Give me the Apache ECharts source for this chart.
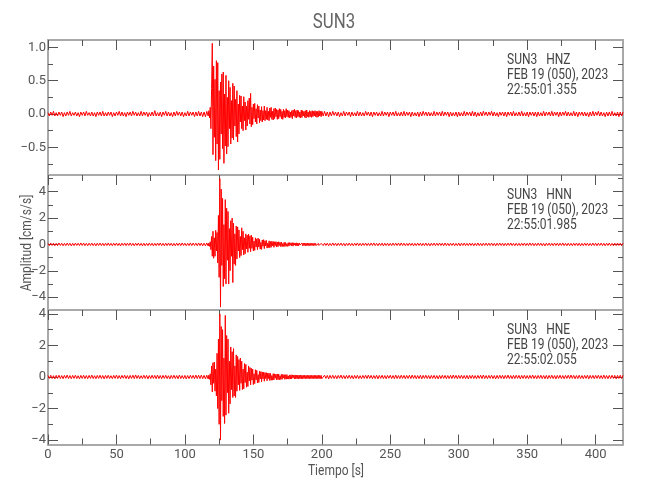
<!DOCTYPE html>
<html><head><meta charset="utf-8">
<script src="https://cdn.jsdelivr.net/npm/echarts@6/dist/echarts.min.js"></script>
<style>html,body{margin:0;padding:0;background:#fff}#c{width:650px;height:500px}</style>
</head><body><div id="c"></div>
<script>
const FONT = "Roboto, 'Liberation Sans', sans-serif";

// ---- text ----
const chartTitle = 'SUN3';
const xTitle = 'Tiempo [s]';
const yTitle = 'Amplitud [cm/s/s]';
const stationInfo = [
  ['SUN3   HNZ', 'FEB 19 (050), 2023', '22:55:01.355'],
  ['SUN3   HNN', 'FEB 19 (050), 2023', '22:55:01.985'],
  ['SUN3   HNE', 'FEB 19 (050), 2023', '22:55:02.055']
];

// ---- axis ticks ----
const xRange = [0, 420];
const xMajorTicks = [0, 50, 100, 150, 200, 250, 300, 350, 400];
const xMinorTicks = [25, 75, 125, 175, 225, 275, 325, 375];
const yRanges = [[-0.915, 1.11], [-4.98, 5.27], [-4.28, 4.245]];
const yMajorTicks = [[-0.5, 0, 0.5, 1.0], [-4, -2, 0, 2, 4], [-4, -2, 0, 2, 4]];
const yMinorTicks = [[-0.75, -0.25, 0.25, 0.75], [-5, -3, -1, 1, 3, 5], [-3, -1, 1, 3]];
const yDecimals = [1, 0, 0];

// ---- sampling of the read-off values (segment start time, step in s) ----
const preStart = 0, preStep = 1;
const evStart = 117.5, evStep = 0.5;
const postStart = 201, postStep = 1;

// ---- HNZ ----
const hnzPre = [
0.02,-0.03,0.03,-0.02,0.04,-0.03,0.02,-0.03,0.03,-0.02,
0.03,-0.04,0.02,-0.03,0.03,-0.02,0.04,-0.03,0.02,-0.02,
0.03,-0.03,0.02,-0.04,0.03,-0.02,0.03,-0.03,0.04,-0.02,
0.02,-0.03,0.03,-0.03,0.02,-0.04,0.03,-0.02,0.03,-0.03,
0.04,-0.03,0.02,-0.03,0.03,-0.02,0.03,-0.04,0.02,-0.03,
0.03,-0.02,0.04,-0.03,0.03,-0.03,0.02,-0.04,0.03,-0.02,
0.03,-0.03,0.04,-0.02,0.03,-0.03,0.02,-0.03,0.04,-0.03,
0.03,-0.02,0.03,-0.04,0.02,-0.03,0.03,-0.03,0.05,-0.03,
0.02,-0.03,0.03,-0.04,0.03,-0.02,0.04,-0.03,0.03,-0.03,
0.02,-0.04,0.03,-0.03,0.04,-0.02,0.03,-0.03,0.03,-0.04,
0.02,-0.03,0.04,-0.03,0.03,-0.02,0.03,-0.04,0.03,-0.03,
0.04,-0.03,0.03,-0.04,0.03,-0.04,0.04,-0.03];
const hnzEvent = [
0.05,-0.06,0.10,-0.22,0.38,1.06,-0.61,0.72,-0.35,0.52,-0.70,
0.80,-0.45,0.77,-0.84,0.35,-0.68,0.48,-0.30,0.60,-0.52,
0.63,-0.74,0.30,-0.48,0.58,-0.60,0.25,-0.49,0.50,-0.22,
0.40,-0.45,0.20,-0.36,0.46,-0.39,0.42,-0.18,0.22,-0.34,
0.35,-0.42,0.15,-0.30,0.28,-0.12,0.27,-0.22,0.12,-0.25,
0.26,-0.10,0.18,-0.24,0.12,-0.18,0.20,-0.08,0.24,-0.15,
0.31,-0.19,0.10,-0.16,0.15,-0.07,0.16,-0.12,0.08,-0.15,
0.14,-0.06,0.12,-0.13,0.06,-0.10,0.11,-0.12,0.05,-0.09,
0.12,-0.10,0.05,-0.08,0.10,-0.09,0.04,-0.10,0.09,-0.05,
0.10,-0.08,0.04,-0.09,0.08,-0.07,0.09,-0.04,0.07,-0.08,
0.06,-0.07,0.08,-0.04,0.07,-0.07,0.04,-0.08,0.07,-0.05,
0.05,-0.06,0.08,-0.04,0.06,-0.05,0.05,-0.06,0.03,-0.05,
0.05,-0.07,0.06,-0.03,0.07,-0.05,0.05,-0.06,0.06,-0.04,
0.05,-0.05,0.03,-0.06,0.06,-0.05,0.05,-0.03,0.04,-0.05,
0.05,-0.06,0.06,-0.04,0.03,-0.05,0.05,-0.04,0.04,-0.05,
0.05,-0.04,0.04,-0.03,0.05,-0.04,0.04,-0.05,0.04,-0.04,
0.05,-0.03,0.04,-0.04,0.04];
const hnzPost = [
-0.03,0.04,-0.03,0.03,-0.04,0.03,-0.03,0.04,-0.02,0.03,
-0.03,0.03,-0.04,0.02,-0.03,0.04,-0.03,0.03,-0.02,0.03,
-0.04,0.03,-0.03,0.02,-0.03,0.04,-0.03,0.03,-0.03,0.02,
-0.03,0.04,-0.02,0.03,-0.03,0.03,-0.04,0.03,-0.02,0.03,
-0.03,0.02,-0.03,0.04,-0.03,0.03,-0.02,0.03,-0.04,0.03,
-0.02,0.03,-0.03,0.04,-0.03,0.02,-0.03,0.03,-0.03,0.04,
-0.03,0.03,-0.02,0.03,-0.04,0.03,-0.03,0.02,-0.03,0.03,
-0.04,0.03,-0.03,0.04,-0.02,0.03,-0.03,0.03,-0.03,0.02,
-0.03,0.04,-0.03,0.03,-0.02,0.03,-0.03,0.04,-0.03,0.03,
-0.02,0.03,-0.04,0.03,-0.03,0.02,-0.03,0.03,-0.04,0.03,
-0.03,0.02,-0.03,0.04,-0.03,0.03,-0.02,0.03,-0.03,0.04,
-0.03,0.03,-0.04,0.02,-0.03,0.03,-0.03,0.04,-0.02,0.03,
-0.03,0.03,-0.02,0.04,-0.03,0.03,-0.03,0.02,-0.04,0.03,
-0.02,0.03,-0.03,0.03,-0.04,0.03,-0.02,0.03,-0.03,0.04,
-0.03,0.02,-0.03,0.03,-0.03,0.04,-0.03,0.02,-0.03,0.03,
-0.04,0.03,-0.02,0.03,-0.03,0.03,-0.04,0.03,-0.03,0.02,
-0.03,0.04,-0.03,0.03,-0.02,0.03,-0.03,0.04,-0.03,0.03,
-0.02,0.03,-0.04,0.03,-0.03,0.03,-0.02,0.04,-0.03,0.03,
-0.03,0.02,-0.03,0.04,-0.03,0.03,-0.04,0.03,-0.02,0.03,
-0.03,0.03,-0.03,0.02,-0.04,0.03,-0.03,0.04,-0.03,0.03,
-0.02,0.04,-0.03,0.03,-0.03,0.02,-0.04,0.03,-0.03,0.03,
-0.03,0.04,-0.03,0.02,-0.03,0.03,-0.04,0.03,-0.03,0.03];

// ---- HNN ----
const hnnPre = [
0.08,-0.09,0.1,-0.08,0.09,-0.1,0.08,-0.09,0.11,-0.08,
0.09,-0.1,0.08,-0.09,0.1,-0.08,0.09,-0.11,0.08,-0.09,
0.1,-0.08,0.09,-0.09,0.11,-0.08,0.1,-0.09,0.08,-0.1,
0.09,-0.08,0.1,-0.09,0.08,-0.11,0.09,-0.08,0.1,-0.09,
0.08,-0.1,0.09,-0.08,0.11,-0.09,0.08,-0.1,0.09,-0.08,
0.1,-0.09,0.08,-0.11,0.09,-0.08,0.1,-0.09,0.09,-0.08,
0.11,-0.09,0.08,-0.1,0.09,-0.08,0.1,-0.09,0.08,-0.11,
0.09,-0.1,0.08,-0.09,0.1,-0.08,0.09,-0.11,0.08,-0.09,
0.1,-0.08,0.11,-0.09,0.08,-0.1,0.09,-0.09,0.1,-0.08,
0.09,-0.11,0.08,-0.1,0.09,-0.08,0.1,-0.09,0.11,-0.08,
0.09,-0.1,0.08,-0.09,0.11,-0.09,0.1,-0.08,0.09,-0.1,
0.11,-0.09,0.1,-0.11,0.09,-0.1,0.11,-0.12];
const hnnEvent = [
0.1,-0.15,0.2,-0.4,0.6,-0.9,1.0,-1.05,0.5,-0.9,1.07,
-0.5,0.9,-1.4,2.2,-2.5,5.0,-4.76,4.2,-1.6,3.5,
-3.2,1.5,-2.6,3.4,-3.0,2.75,-1.2,2.5,-3.0,1.2,
-2.0,1.8,-0.9,2.0,-2.9,1.6,-1.5,0.8,-1.6,1.4,
-1.1,1.33,-0.5,1.1,-1.0,0.6,-0.85,1.26,-0.4,1.0,
-0.8,0.5,-0.7,0.8,-0.35,0.7,-0.6,0.78,-0.3,0.65,
-0.55,0.7,-0.3,0.55,-0.5,0.25,-0.45,0.5,-0.2,0.42,
-0.4,0.48,-0.2,0.38,-0.36,0.15,-0.38,0.34,-0.14,0.36,
-0.32,0.28,-0.12,0.3,-0.28,0.1,-0.24,0.27,-0.25,0.22,
-0.22,0.24,-0.1,0.22,-0.22,0.2,-0.09,0.21,-0.2,0.18,
-0.17,0.2,-0.08,0.16,-0.16,0.18,-0.17,0.07,-0.15,0.16,
-0.16,0.14,-0.14,0.06,-0.15,0.13,-0.13,0.14,-0.06,0.12,
-0.12,0.13,-0.13,0.12,-0.05,0.11,-0.11,0.12,-0.12,0.1,
-0.1,0.11,-0.05,0.1,-0.1,0.11,-0.1,0.09,-0.09,0.1,
-0.1,0.09,-0.09,0.1,-0.1,0.08,-0.08,0.09,-0.09,0.08,
-0.08,0.09,-0.09,0.08,-0.08,0.08,-0.08,0.07,-0.07,0.08,
-0.08,0.07,-0.07,0.08,-0.07];
const hnnPost = [
-0.09,0.1,-0.08,0.09,-0.1,0.08,-0.09,0.11,-0.08,0.09,
-0.1,0.09,-0.08,0.1,-0.09,0.08,-0.11,0.09,-0.08,0.1,
-0.09,0.08,-0.1,0.09,-0.08,0.11,-0.09,0.08,-0.1,0.09,
-0.08,0.1,-0.09,0.08,-0.09,0.1,-0.08,0.11,-0.09,0.08,
-0.1,0.09,-0.08,0.1,-0.11,0.09,-0.08,0.09,-0.1,0.08,
-0.09,0.1,-0.08,0.09,-0.08,0.1,-0.09,0.11,-0.08,0.09,
-0.1,0.08,-0.09,0.1,-0.08,0.09,-0.11,0.08,-0.09,0.1,
-0.08,0.09,-0.1,0.08,-0.09,0.1,-0.09,0.08,-0.11,0.09,
-0.08,0.1,-0.09,0.09,-0.08,0.1,-0.08,0.09,-0.1,0.11,
-0.09,0.08,-0.1,0.09,-0.08,0.09,-0.1,0.08,-0.09,0.1,
-0.11,0.09,-0.08,0.1,-0.09,0.08,-0.09,0.1,-0.08,0.09,
-0.1,0.08,-0.09,0.11,-0.09,0.08,-0.1,0.09,-0.08,0.1,
-0.09,0.09,-0.08,0.1,-0.09,0.08,-0.11,0.09,-0.08,0.1,
-0.08,0.09,-0.1,0.08,-0.09,0.1,-0.08,0.11,-0.09,0.08,
-0.1,0.09,-0.09,0.08,-0.1,0.09,-0.08,0.1,-0.09,0.08,
-0.09,0.11,-0.08,0.09,-0.1,0.08,-0.09,0.1,-0.08,0.09,
-0.1,0.08,-0.11,0.09,-0.08,0.1,-0.09,0.08,-0.09,0.1,
-0.08,0.09,-0.1,0.09,-0.08,0.11,-0.09,0.08,-0.1,0.09,
-0.09,0.08,-0.1,0.09,-0.08,0.1,-0.09,0.09,-0.11,0.08,
-0.09,0.1,-0.08,0.09,-0.1,0.08,-0.09,0.1,-0.08,0.09,
-0.1,0.09,-0.08,0.1,-0.09,0.08,-0.1,0.09,-0.08,0.1,
-0.09,0.08,-0.1,0.09,-0.09,0.1,-0.08,0.09,-0.1,0.09];

// ---- HNE ----
const hnePre = [
0.1,-0.09,0.11,-0.1,0.08,-0.12,0.1,-0.09,0.11,-0.1,
0.09,-0.11,0.1,-0.08,0.12,-0.1,0.09,-0.11,0.1,-0.09,
0.11,-0.1,0.08,-0.12,0.1,-0.09,0.11,-0.1,0.09,-0.11,
0.1,-0.09,0.12,-0.1,0.08,-0.11,0.1,-0.09,0.11,-0.1,
0.09,-0.12,0.1,-0.09,0.11,-0.1,0.08,-0.11,0.1,-0.09,
0.12,-0.1,0.09,-0.11,0.1,-0.08,0.11,-0.1,0.09,-0.12,
0.1,-0.09,0.11,-0.1,0.13,-0.09,0.1,-0.11,0.08,-0.1,
0.11,-0.09,0.1,-0.12,0.09,-0.1,0.11,-0.09,0.1,-0.11,
0.12,-0.1,0.09,-0.11,0.1,-0.09,0.11,-0.1,0.08,-0.12,
0.1,-0.09,0.11,-0.1,0.09,-0.11,0.12,-0.1,0.09,-0.11,
0.1,-0.12,0.09,-0.1,0.11,-0.09,0.1,-0.11,0.12,-0.1,
0.11,-0.1,0.12,-0.11,0.1,-0.12,0.11,-0.13];
const hneEvent = [
0.12,-0.15,0.2,-0.5,0.7,-0.95,0.9,-0.4,0.95,-0.9,0.5,
-1.2,1.5,-2.0,2.4,-3.0,4.0,-4.0,3.2,-1.5,3.0,
-2.5,1.2,-2.95,3.9,-2.42,2.63,-1.0,2.4,-2.3,1.0,
-1.7,1.9,-0.8,1.6,-1.3,1.8,-1.2,0.7,-1.3,1.4,
-0.9,1.3,-0.5,1.1,-0.85,1.2,-0.4,1.0,-0.8,0.5,
-0.75,0.85,-0.35,0.8,-0.65,0.3,-0.6,0.7,-0.25,0.6,
-0.5,0.55,-0.2,0.5,-0.48,0.2,-0.42,0.46,-0.18,0.42,
-0.38,0.15,-0.35,0.36,-0.12,0.34,-0.3,0.32,-0.12,0.3,
-0.27,0.28,-0.1,0.27,-0.24,0.25,-0.1,0.24,-0.22,0.23,
-0.21,0.09,-0.2,0.21,-0.19,0.2,-0.08,0.18,-0.18,0.19,
-0.17,0.18,-0.18,0.08,-0.16,0.17,-0.15,0.16,-0.07,0.15,
-0.15,0.14,-0.14,0.15,-0.13,0.07,-0.14,0.13,-0.13,0.14,
-0.12,0.13,-0.06,0.12,-0.12,0.13,-0.12,0.11,-0.11,0.12,
-0.12,0.11,-0.11,0.12,-0.12,0.11,-0.11,0.1,-0.1,0.11,
-0.11,0.1,-0.1,0.11,-0.11,0.1,-0.1,0.11,-0.11,0.1,
-0.1,0.1,-0.1,0.11,-0.11,0.1,-0.1,0.1,-0.1,0.11,
-0.11,0.1,-0.1,0.1,-0.11];
const hnePost = [
-0.1,0.11,-0.09,0.1,-0.12,0.1,-0.09,0.11,-0.1,0.09,
-0.11,0.1,-0.08,0.12,-0.1,0.09,-0.11,0.1,-0.09,0.11,
-0.1,0.09,-0.12,0.1,-0.09,0.11,-0.1,0.08,-0.11,0.1,
-0.09,0.11,-0.1,0.12,-0.09,0.1,-0.11,0.09,-0.1,0.11,
-0.12,0.1,-0.09,0.11,-0.1,0.09,-0.11,0.1,-0.08,0.11,
-0.1,0.09,-0.11,0.12,-0.1,0.09,-0.1,0.11,-0.09,0.1,
-0.11,0.1,-0.09,0.11,-0.1,0.12,-0.09,0.1,-0.11,0.09,
-0.1,0.11,-0.12,0.1,-0.09,0.11,-0.1,0.09,-0.11,0.1,
-0.09,0.1,-0.11,0.09,-0.12,0.1,-0.1,0.11,-0.09,0.1,
-0.11,0.09,-0.1,0.11,-0.1,0.12,-0.09,0.1,-0.11,0.1,
-0.09,0.11,-0.1,0.09,-0.11,0.1,-0.12,0.1,-0.09,0.11,
-0.1,0.09,-0.11,0.1,-0.09,0.11,-0.1,0.12,-0.1,0.09,
-0.11,0.1,-0.09,0.11,-0.1,0.09,-0.12,0.1,-0.1,0.11,
-0.09,0.1,-0.11,0.1,-0.09,0.12,-0.1,0.09,-0.11,0.1,
-0.1,0.11,-0.09,0.1,-0.12,0.1,-0.09,0.11,-0.1,0.09,
-0.11,0.1,-0.09,0.12,-0.1,0.09,-0.11,0.1,-0.09,0.11,
-0.1,0.09,-0.11,0.1,-0.12,0.1,-0.09,0.11,-0.1,0.09,
-0.12,0.1,-0.09,0.11,-0.1,0.09,-0.11,0.1,-0.09,0.11,
-0.1,0.12,-0.09,0.1,-0.11,0.09,-0.1,0.11,-0.1,0.09,
-0.11,0.1,-0.09,0.11,-0.12,0.1,-0.09,0.1,-0.11,0.1,
-0.09,0.11,-0.1,0.09,-0.11,0.12,-0.1,0.09,-0.11,0.1,
-0.1,0.11,-0.09,0.1,-0.12,0.1,-0.09,0.11,-0.1,0.11];

// ---- build (time, value) pairs ----
function trace(pre, ev, post) {
  const d = [];
  pre.forEach((v, i) => d.push([preStart + i * preStep, v]));
  ev.forEach((v, i) => d.push([evStart + i * evStep, v]));
  post.forEach((v, i) => d.push([postStart + i * postStep, v]));
  return d;
}
const traces = [trace(hnzPre, hnzEvent, hnzPost), trace(hnnPre, hnnEvent, hnnPost), trace(hnePre, hneEvent, hnePost)];

// ---- layout ----
const grids = [
  {left: 48, right: 27, top: 40, height: 135},
  {left: 48, right: 27, top: 175, height: 135},
  {left: 48, right: 27, top: 310, height: 134.5}
];
const TICK_COLOR = '#555';
const LABEL_COLOR = '#555';
function axisLine(show) {
  return {show: show, onZero: false, lineStyle: {color: '#a9a9a9', width: 2}};
}
function fmt(v, dec) {
  const s = Math.abs(v).toFixed(dec);
  return (v < 0 ? '\u2212' : '') + s;
}

const xAxes = [], yAxes = [];
grids.forEach((g, gi) => {
  const last = gi === grids.length - 1;
  const xb = () => ({gridIndex: gi, type: 'value', min: xRange[0], max: xRange[1], splitLine: {show: false}});
  xAxes.push(Object.assign(xb(), {
    position: 'bottom', axisLine: axisLine(true),
    axisTick: {show: last, inside: true, length: 10, customValues: xMajorTicks, lineStyle: {color: TICK_COLOR}},
    axisLabel: {show: last, customValues: xMajorTicks, margin: 4, color: LABEL_COLOR, fontFamily: FONT, fontSize: 13}
  }));
  xAxes.push(Object.assign(xb(), {
    position: 'bottom', axisLine: axisLine(false),
    axisTick: {show: last, inside: true, length: 6, customValues: xMinorTicks, lineStyle: {color: TICK_COLOR}},
    axisLabel: {show: false}
  }));
  xAxes.push(Object.assign(xb(), {
    position: 'top', axisLine: axisLine(true),
    axisTick: {show: true, inside: true, length: 10, customValues: xMajorTicks, lineStyle: {color: TICK_COLOR}},
    axisLabel: {show: false}
  }));
  xAxes.push(Object.assign(xb(), {
    position: 'top', axisLine: axisLine(false),
    axisTick: {show: true, inside: true, length: 6, customValues: xMinorTicks, lineStyle: {color: TICK_COLOR}},
    axisLabel: {show: false}
  }));

  const yb = () => ({gridIndex: gi, type: 'value', min: yRanges[gi][0], max: yRanges[gi][1], splitLine: {show: false}});
  yAxes.push(Object.assign(yb(), {
    position: 'left', axisLine: axisLine(true),
    axisTick: {show: true, inside: true, length: 10, customValues: yMajorTicks[gi], lineStyle: {color: TICK_COLOR}},
    axisLabel: {show: true, customValues: yMajorTicks[gi], margin: 2, color: LABEL_COLOR, fontFamily: FONT, fontSize: 13,
      formatter: (v) => fmt(v, yDecimals[gi])}
  }));
  yAxes.push(Object.assign(yb(), {
    position: 'left', axisLine: axisLine(false),
    axisTick: {show: true, inside: true, length: 5, customValues: yMinorTicks[gi], lineStyle: {color: TICK_COLOR}},
    axisLabel: {show: false}
  }));
  yAxes.push(Object.assign(yb(), {
    position: 'right', axisLine: axisLine(true),
    axisTick: {show: true, inside: true, length: 10, customValues: yMajorTicks[gi], lineStyle: {color: TICK_COLOR}},
    axisLabel: {show: false}
  }));
  yAxes.push(Object.assign(yb(), {
    position: 'right', axisLine: axisLine(false),
    axisTick: {show: true, inside: true, length: 5, customValues: yMinorTicks[gi], lineStyle: {color: TICK_COLOR}},
    axisLabel: {show: false}
  }));
});

const series = traces.map((d, gi) => ({
  type: 'line', xAxisIndex: gi * 4, yAxisIndex: gi * 4, data: d,
  showSymbol: false, symbol: 'none', silent: true, animation: false,
  lineStyle: {color: '#ff0000', width: 1}, z: 1
}));

const SX = 0.8;
const graphic = [
  {type: 'text', x: 334, y: 23, scaleX: SX, style: {text: chartTitle, fontFamily: FONT, fontSize: 21, fill: '#666', align: 'center', verticalAlign: 'middle'}},
  {type: 'text', x: 336, y: 471, scaleX: SX, style: {text: xTitle, fontFamily: FONT, fontSize: 15, fill: '#555', align: 'center', verticalAlign: 'middle'}},
  {type: 'text', x: 27, y: 243, rotation: Math.PI / 2, scaleX: SX, style: {text: yTitle, fontFamily: FONT, fontSize: 15, fill: '#555', align: 'center', verticalAlign: 'middle'}}
];
stationInfo.forEach((lines, gi) => {
  lines.forEach((t, li) => {
    graphic.push({type: 'text', x: 507, y: grids[gi].top + 20 + li * 15, scaleX: SX,
      style: {text: t, fontFamily: FONT, fontSize: 15, fill: '#444', align: 'left', verticalAlign: 'middle'}});
  });
});

const chart = echarts.init(document.getElementById('c'), null, {renderer: 'canvas'});
chart.setOption({
  animation: false,
  backgroundColor: '#fff',
  grid: grids,
  xAxis: xAxes,
  yAxis: yAxes,
  series: series,
  graphic: graphic
});
</script>
</body></html>
